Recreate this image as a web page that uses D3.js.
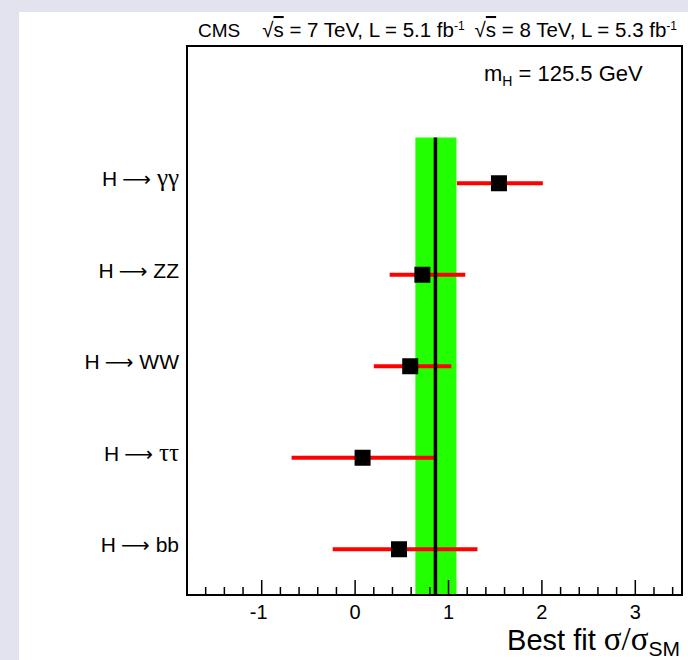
<!DOCTYPE html>
<html>
<head>
<meta charset="utf-8">
<script src="https://cdn.jsdelivr.net/npm/d3@7"></script>
<style>
  html, body { margin: 0; padding: 0; background: #e3e3ef; }
  svg { display: block; }
  text { font-family: "Liberation Sans", Arial, sans-serif; fill: #000; }
  .greek { font-family: "Liberation Serif", "Times New Roman", serif; }
  .arrow { font-family: "DejaVu Sans", sans-serif; }
</style>
</head>
<body>
<script>
// decay channels, top to bottom
const channels = ["γγ", "ZZ", "WW", "ττ", "bb"];
const greekChannel = [true, false, false, true, false];
const bestFit = [1.54, 0.72, 0.59, 0.08, 0.47];
const errLow = [1.09, 0.37, 0.20, -0.68, -0.24];
const errHigh = [2.01, 1.18, 1.03, 0.86, 1.31];

// combined result
const combinedFit = 0.86;
const combinedLow = 0.645;
const combinedHigh = 1.085;

const xTicks = [-1, 0, 1, 2, 3];

// header pieces
const energies = ["7", "8"];
const lumis = ["5.1", "5.3"];

const W = 688, H = 660;
const frame = { left: 187, right: 682, top: 46, bottom: 595 };

const svg = d3.select("body").append("svg")
  .attr("width", W)
  .attr("height", H);

// white pad
svg.append("rect")
  .attr("x", 19).attr("y", 12)
  .attr("width", W - 19).attr("height", H - 12)
  .attr("fill", "#fff");

const x = d3.scaleLinear()
  .domain([-1.8, 3.5])
  .range([frame.left, frame.right]);

const y = d3.scaleLinear()
  .domain([0, 6])
  .range([frame.bottom, frame.top]);

const rowY = (i) => y(channels.length - i - 0.5);

// combined band
svg.append("rect")
  .attr("x", x(combinedLow))
  .attr("y", y(channels.length))
  .attr("width", x(combinedHigh) - x(combinedLow))
  .attr("height", y(0) - y(channels.length))
  .attr("fill", "#22ff00");

// error bars
svg.selectAll(".err")
  .data(channels)
  .join("line")
  .attr("class", "err")
  .attr("x1", (d, i) => x(errLow[i]))
  .attr("x2", (d, i) => x(errHigh[i]))
  .attr("y1", (d, i) => rowY(i))
  .attr("y2", (d, i) => rowY(i))
  .attr("stroke", "#ff0000")
  .attr("stroke-width", 4);

// combined central value
svg.append("line")
  .attr("x1", x(combinedFit)).attr("x2", x(combinedFit))
  .attr("y1", y(channels.length)).attr("y2", y(0))
  .attr("stroke", "#000")
  .attr("stroke-width", 3.5);

// markers
const ms = 16;
svg.selectAll(".mark")
  .data(channels)
  .join("rect")
  .attr("class", "mark")
  .attr("x", (d, i) => x(bestFit[i]) - ms / 2)
  .attr("y", (d, i) => rowY(i) - ms / 2)
  .attr("width", ms)
  .attr("height", ms)
  .attr("fill", "#000");

// frame
svg.append("rect")
  .attr("x", frame.left).attr("y", frame.top)
  .attr("width", frame.right - frame.left)
  .attr("height", frame.bottom - frame.top)
  .attr("fill", "none")
  .attr("stroke", "#000")
  .attr("stroke-width", 2);

// x axis ticks
const minorTicks = d3.range(-16, 35, 2).map((v) => v / 10)
  .filter((v) => !xTicks.includes(v));
const axisG = svg.append("g");
axisG.selectAll(".minor")
  .data(minorTicks)
  .join("line")
  .attr("x1", (d) => x(d)).attr("x2", (d) => x(d))
  .attr("y1", frame.bottom).attr("y2", frame.bottom - 8)
  .attr("stroke", "#000").attr("stroke-width", 1.5);
axisG.selectAll(".major")
  .data(xTicks)
  .join("line")
  .attr("x1", (d) => x(d)).attr("x2", (d) => x(d))
  .attr("y1", frame.bottom).attr("y2", frame.bottom - 15)
  .attr("stroke", "#000").attr("stroke-width", 1.5);
axisG.selectAll(".tlabel")
  .data(xTicks)
  .join("text")
  .attr("x", (d) => x(d) - (d < 0 ? 3 : 0))
  .attr("y", 619)
  .attr("text-anchor", "middle")
  .attr("font-size", 20)
  .text((d) => d);

// axis title
const title = svg.append("text")
  .attr("x", 680).attr("y", 650)
  .attr("text-anchor", "end")
  .attr("font-size", 29);
title.append("tspan").text("Best fit ");
title.append("tspan").attr("class", "greek").attr("font-size", 33).text("σ/σ");
title.append("tspan").attr("dy", 6).attr("font-size", 21).text("SM");

// channel labels
const labels = svg.selectAll(".clabel")
  .data(channels)
  .join("text")
  .attr("class", "clabel")
  .attr("x", 179)
  .attr("y", (d, i) => rowY(i) + 3)
  .attr("text-anchor", "end")
  .attr("font-size", 21);
labels.append("tspan").text("H");
labels.append("tspan").attr("dx", 5).attr("class", "arrow").attr("font-size", 20).text("⟶");
labels.append("tspan")
  .attr("dx", 6)
  .attr("class", (d, i) => (greekChannel[i] ? "greek" : null))
  .attr("font-size", (d, i) => (greekChannel[i] ? 25 : 21))
  .text((d) => d);

// header
svg.append("text")
  .attr("x", 198).attr("y", 37)
  .attr("font-size", 19)
  .text("CMS");

const header = svg.append("text")
  .attr("x", 677).attr("y", 37)
  .attr("text-anchor", "end")
  .attr("font-size", 20.5);
energies.forEach((e, i) => {
  header.append("tspan")
    .attr("dx", i === 0 ? 0 : 10)
    .attr("dy", i === 0 ? 0 : 7)
    .text("√");
  header.append("tspan").style("text-decoration", "overline").text("s");
  header.append("tspan").text(" = " + e + " TeV, L = " + lumis[i] + " fb");
  header.append("tspan").attr("dy", -7).attr("font-size", 12).text("-1");
});

// mass label
const mass = svg.append("text")
  .attr("x", 484).attr("y", 81)
  .attr("font-size", 22);
mass.append("tspan").text("m");
mass.append("tspan").attr("dy", 5).attr("font-size", 14).text("H");
mass.append("tspan").attr("dy", -5).text(" = 125.5 GeV");
</script>
</body>
</html>
